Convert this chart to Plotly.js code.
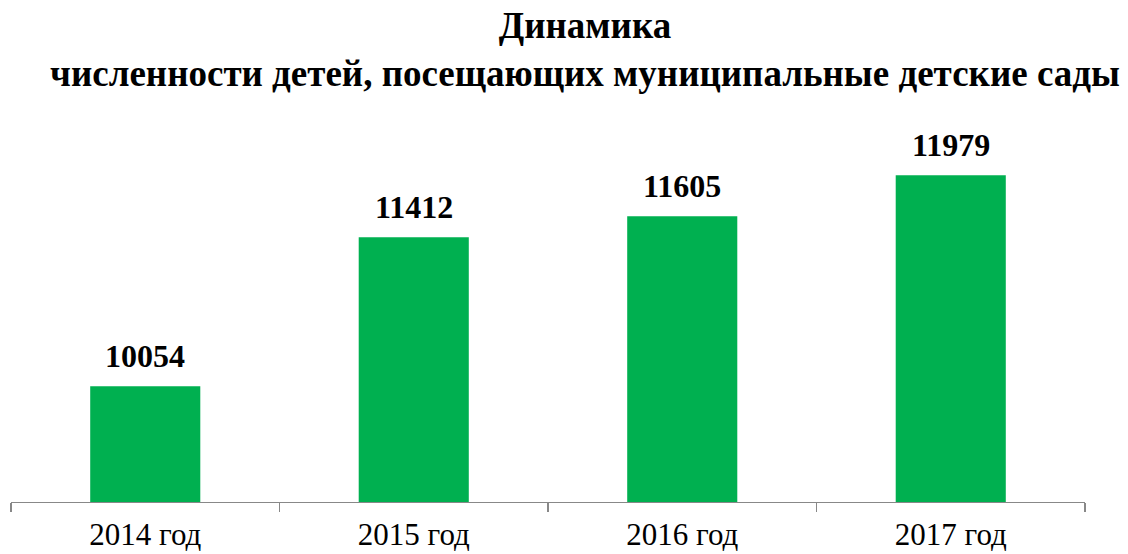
<!DOCTYPE html>
<html><head><meta charset="utf-8">
<script src="https://cdn.plot.ly/plotly-3.0.1.min.js"></script>
<style>html,body{margin:0;padding:0;background:#fff}#chart{width:1128px;height:554px}</style>
</head><body><div id="chart"></div>
<script>
const categories = ["2014 год", "2015 год", "2016 год", "2017 год"];
const values = [10054, 11412, 11605, 11979];
const titleLine1 = "Динамика";
const titleLine2 = "численности детей, посещающих муниципальные детские сады";

const serif = "Liberation Serif, Times New Roman, serif";
const annotations = categories.map((c, i) => ({
  x: c, y: values[i], xref: "x", yref: "y",
  text: "<b>" + values[i] + "</b>",
  showarrow: false, yanchor: "bottom", yshift: 10,
  font: {family: serif, size: 32, color: "#000"}
}));

Plotly.newPlot("chart", [{
  type: "bar",
  x: categories,
  y: values,
  marker: {color: "#00B050"},
  hoverinfo: "none"
}], {
  width: 1128, height: 554,
  margin: {l: 11, r: 43, t: 118, b: 52},
  paper_bgcolor: "#fff", plot_bgcolor: "#fff",
  bargap: 0.59,
  showlegend: false,
  title: {text: "<b>" + titleLine1 + "<br>" + titleLine2 + "</b>", font: {family: serif, size: 37, color: "#000"},
          x: 0.5186, xanchor: "center", y: 0.932, yanchor: "top"},
  annotations: annotations,
  xaxis: {
    type: "category",
    tickson: "boundaries",
    ticks: "outside", ticklen: 9, tickcolor: "#888", tickwidth: 1.3,
    showline: true, linecolor: "#888", linewidth: 1.3,
    showgrid: false,
    ticklabelstandoff: 4,
    tickfont: {family: serif, size: 31, color: "#000"}
  },
  yaxis: {range: [9000, 12500], visible: false, showgrid: false, zeroline: false}
}, {displayModeBar: false, staticPlot: true});
</script></body></html>
